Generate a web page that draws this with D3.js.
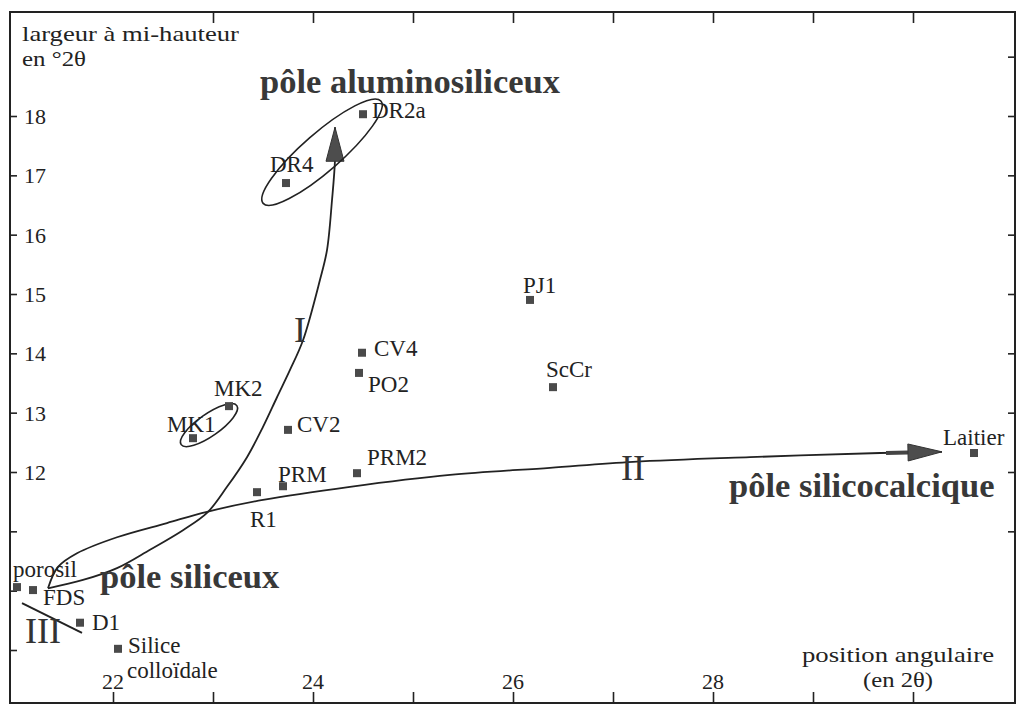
<!DOCTYPE html>
<html lang="fr">
<head>
    <meta charset="UTF-8">
    <title>Largeur à mi-hauteur vs position angulaire</title>
    <script src="https://cdn.jsdelivr.net/npm/d3@7"></script>
    <style>
        body { margin: 0; background: #fff; }
        text { font-family: "Liberation Serif", "Times New Roman", serif; fill: #222; }
    </style>
</head>
<body>
<div id="chart"></div>
<script>

    // samples: name, angular position (2θ), width at half height (°2θ)
    var names = ["porosil", "FDS", "D1", "Silice\ncolloïdale", "R1", "PRM", "MK1", "MK2", "CV2",
        "PRM2", "PO2", "CV4", "PJ1", "ScCr", "Laitier", "DR4", "DR2a"];
    var positions = [21.04, 21.20, 21.67, 22.05, 23.44, 23.70, 22.80, 23.16, 23.75,
        24.44, 24.46, 24.49, 26.17, 26.40, 30.61, 23.73, 24.50];
    var widths = [10.06, 10.01, 9.46, 9.02, 11.66, 11.76, 12.57, 13.11, 12.71,
        11.98, 13.67, 14.01, 14.90, 13.43, 12.32, 16.87, 18.03];

    // trend curves (data coordinates), the last point is the arrow tip
    var curveI = [[21.35, 10.04], [21.70, 10.18], [22.04, 10.38], [22.37, 10.69], [22.70, 11.02],
        [22.94, 11.31], [23.14, 11.75], [23.34, 12.25], [23.50, 12.76], [23.64, 13.26],
        [23.77, 13.72], [23.90, 14.22], [24.07, 15.24], [24.14, 15.74], [24.19, 16.58],
        [24.22, 17.26], [24.22, 17.81]];
    var curveII = [[21.35, 10.04], [21.45, 10.40], [21.64, 10.63], [22.04, 10.90], [22.54, 11.14],
        [22.94, 11.33], [23.50, 11.53], [24.37, 11.75], [25.37, 11.95], [26.37, 12.07],
        [27.20, 12.17], [28.37, 12.25], [29.67, 12.32], [30.29, 12.34]];
    var lineIII = [[21.09, 9.79], [21.69, 9.29]];

    // groups circled on the figure (centre in data coordinates)
    var groupCentres = [[24.09, 17.39], [22.96, 12.79]];

    // axis ticks
    var xTicksBottom = [22, 23, 24, 25, 26, 27, 28, 29, 30];
    var xTicksTop = [23, 24, 25, 26, 27, 28, 29, 30];
    var xTickLabels = [22, 24, 26, 28];
    var yTicksLeft = [9, 10, 11, 12, 13, 14, 15, 16, 17, 18];
    var yTicksRight = [11, 12, 13, 14, 15, 16, 17, 18, 19];
    var yTickLabels = [12, 13, 14, 15, 16, 17, 18];

    // label placement relative to the marker (px): text start, baseline
    var labelOffset = {
        "porosil": [-4, -10], "FDS": [10, 15], "D1": [12, 7], "Silice\ncolloïdale": [10, 4],
        "R1": [-7, 35], "PRM": [-5, -4], "MK1": [-26, -6], "MK2": [-15, -10], "CV2": [9, 2],
        "PRM2": [10, -8], "PO2": [9, 19], "CV4": [12, 3], "PJ1": [-7, -7], "ScCr": [-7, -10],
        "Laitier": [-31, -8], "DR4": [-16, -11], "DR2a": [9, 4]
    };

    var W = 1017, H = 705;
    var frame = {left: 10, top: 12, right: 1015, bottom: 703};

    var svg = d3.select("#chart")
        .append("svg")
        .attr("width", W)
        .attr("height", H);

    var x = d3.scaleLinear().domain([22, 30]).range([113, 913]);
    var y = d3.scaleLinear().domain([9, 18]).range([650, 116]);

    // frame
    svg.append("rect")
        .attr("x", frame.left).attr("y", frame.top)
        .attr("width", frame.right - frame.left)
        .attr("height", frame.bottom - frame.top)
        .attr("fill", "none")
        .attr("stroke", "#222")
        .attr("stroke-width", 2);

    // ticks (pointing inwards)
    svg.append("g")
        .attr("transform", "translate(0," + frame.bottom + ")")
        .call(d3.axisTop(x).tickValues(xTicksBottom).tickSize(11).tickFormat(""))
        .call(function (g) { g.select(".domain").remove(); });
    svg.append("g")
        .attr("transform", "translate(0," + frame.top + ")")
        .call(d3.axisBottom(x).tickValues(xTicksTop).tickSize(11).tickFormat(""))
        .call(function (g) { g.select(".domain").remove(); });
    svg.append("g")
        .attr("transform", "translate(" + frame.left + ",0)")
        .call(d3.axisRight(y).tickValues(yTicksLeft).tickSize(7).tickFormat(""))
        .call(function (g) { g.select(".domain").remove(); });
    svg.append("g")
        .attr("transform", "translate(" + frame.right + ",0)")
        .call(d3.axisLeft(y).tickValues(yTicksRight).tickSize(7).tickFormat(""))
        .call(function (g) { g.select(".domain").remove(); });
    svg.selectAll(".tick line").attr("stroke", "#222").attr("stroke-width", 1.6);

    // tick labels
    svg.selectAll(".xlab")
        .data(xTickLabels)
        .enter().append("text")
        .attr("x", function (d) { return x(d); })
        .attr("y", 689)
        .attr("text-anchor", "middle")
        .style("font-size", "22px")
        .text(function (d) { return d; });
    svg.selectAll(".ylab")
        .data(yTickLabels)
        .enter().append("text")
        .attr("x", 24)
        .attr("y", function (d) { return y(d) + 8; })
        .style("font-size", "22px")
        .text(function (d) { return d; });

    // axis titles (two lines each)
    var titles = [
        {t: "largeur à mi-hauteur", x: 22, y: 41, len: 217, anchor: "start"},
        {t: "en °2θ", x: 22, y: 66, len: 64, anchor: "start"},
        {t: "position angulaire", x: 898, y: 662, len: 192, anchor: "middle"},
        {t: "(en 2θ)", x: 898, y: 687, len: 70, anchor: "middle"}
    ];
    svg.selectAll(".title")
        .data(titles)
        .enter().append("text")
        .attr("x", function (d) { return d.x; })
        .attr("y", function (d) { return d.y; })
        .attr("text-anchor", function (d) { return d.anchor; })
        .attr("textLength", function (d) { return d.len; })
        .attr("lengthAdjust", "spacingAndGlyphs")
        .style("font-size", "22px")
        .text(function (d) { return d.t; });

    // curves
    var line = d3.line()
        .x(function (d) { return x(d[0]); })
        .y(function (d) { return y(d[1]); })
        .curve(d3.curveCatmullRom);

    function arrowHead(pts, len, half) {
        var a = pts[pts.length - 2], b = pts[pts.length - 1];
        var ax = x(a[0]), ay = y(a[1]), bx = x(b[0]), by = y(b[1]);
        var dl = Math.hypot(bx - ax, by - ay), ux = (bx - ax) / dl, uy = (by - ay) / dl;
        var cx = bx - ux * len, cy = by - uy * len;
        return {
            path: "M" + bx + "," + by +
                "L" + (cx - uy * half) + "," + (cy + ux * half) +
                "L" + (cx + uy * half) + "," + (cy - ux * half) + "Z",
            base: [cx, cy], dir: [ux, uy]
        };
    }

    [curveI, curveII].forEach(function (c) {
        svg.append("path")
            .datum(c)
            .attr("fill", "none")
            .attr("stroke", "#222")
            .attr("stroke-width", 1.8)
            .attr("d", line);
    });

    var headI = arrowHead(curveI, 34, 9);
    svg.append("path").attr("d", headI.path).attr("fill", "#4d4d4d").attr("stroke", "#333");

    var headII = arrowHead(curveII, 34, 8.5);
    svg.append("line")
        .attr("x1", headII.base[0] - headII.dir[0] * 22).attr("y1", headII.base[1] - headII.dir[1] * 22)
        .attr("x2", headII.base[0]).attr("y2", headII.base[1])
        .attr("stroke", "#444").attr("stroke-width", 4);
    svg.append("path").attr("d", headII.path).attr("fill", "#4d4d4d").attr("stroke", "#333");

    svg.append("path")
        .datum(lineIII)
        .attr("fill", "none")
        .attr("stroke", "#222")
        .attr("stroke-width", 2)
        .attr("d", d3.line().x(function (d) { return x(d[0]); }).y(function (d) { return y(d[1]); }));

    // ellipses around groups
    var ellipseShape = [[78, 19, -41], [34, 11, -35]];
    groupCentres.forEach(function (c, i) {
        svg.append("ellipse")
            .attr("transform", "translate(" + x(c[0]) + "," + y(c[1]) + ") rotate(" + ellipseShape[i][2] + ")")
            .attr("rx", ellipseShape[i][0])
            .attr("ry", ellipseShape[i][1])
            .attr("fill", "none")
            .attr("stroke", "#222")
            .attr("stroke-width", 1.6);
    });

    // points
    var pts = names.map(function (n, i) { return {name: n, px: positions[i], w: widths[i]}; });
    svg.selectAll(".pt")
        .data(pts)
        .enter().append("rect")
        .attr("x", function (d) { return x(d.px) - 4; })
        .attr("y", function (d) { return y(d.w) - 4; })
        .attr("width", 8)
        .attr("height", 8)
        .attr("fill", "#4a4a4a");

    // point labels
    var lab = svg.selectAll(".plab")
        .data(pts)
        .enter().append("text")
        .attr("x", function (d) { return x(d.px) + labelOffset[d.name][0]; })
        .attr("y", function (d) { return y(d.w) + labelOffset[d.name][1]; })
        .style("font-size", "23px");
    lab.each(function (d) {
        var t = d3.select(this), parts = d.name.split("\n");
        parts.forEach(function (p, k) {
            t.append("tspan")
                .attr("x", x(d.px) + labelOffset[d.name][0] - k)
                .attr("dy", k === 0 ? 0 : 25)
                .text(p);
        });
    });

    // pole names and trend numerals
    var poles = [
        {t: "pôle aluminosiliceux", x: 260, y: 93},
        {t: "pôle siliceux", x: 100, y: 588},
        {t: "pôle silicocalcique", x: 729, y: 497}
    ];
    svg.selectAll(".pole")
        .data(poles)
        .enter().append("text")
        .attr("x", function (d) { return d.x; })
        .attr("y", function (d) { return d.y; })
        .style("font-size", "34.5px")
        .style("font-weight", "bold")
        .style("fill", "#383838")
        .text(function (d) { return d.t; });

    var numerals = [{t: "I", x: 300, y: 342}, {t: "II", x: 633, y: 480}, {t: "III", x: 43, y: 643}];
    svg.selectAll(".num")
        .data(numerals)
        .enter().append("text")
        .attr("x", function (d) { return d.x; })
        .attr("y", function (d) { return d.y; })
        .attr("text-anchor", "middle")
        .style("font-size", "36px")
        .style("fill", "#333")
        .text(function (d) { return d.t; });

</script>
</body>
</html>
